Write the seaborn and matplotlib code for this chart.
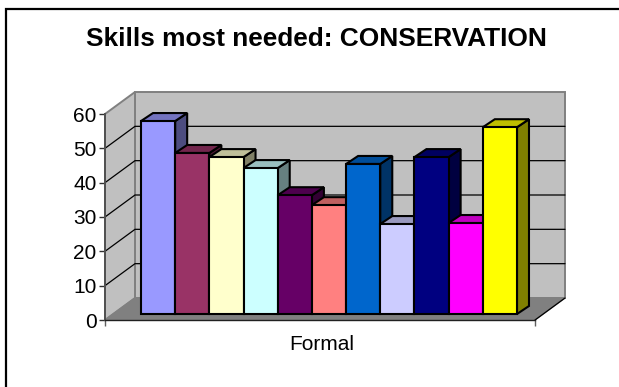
import matplotlib
matplotlib.use("Agg")
import matplotlib.pyplot as plt
from matplotlib.lines import Line2D
from matplotlib.patches import Polygon
from matplotlib.colors import to_rgb
import seaborn as sns

# Skill categories in plotting order, with the share of respondents naming each
skills = ["S1", "S2", "S3", "S4", "S5", "S6", "S7", "S8", "S9", "S10", "S11"]
values = [56.2, 46.9, 45.7, 42.5, 34.6, 31.7, 43.7, 26.2, 45.7, 26.5, 54.4]
colors = ["#9999FF", "#993366", "#FFFFCC", "#CCFFFF", "#660066", "#FF8080",
          "#0066CC", "#CCCCFF", "#000080", "#FF00FF", "#FFFF00"]
y_ticks = [0, 10, 20, 30, 40, 50, 60]
group_label = "Formal"
title = "Skills most needed: CONSERVATION"

W, H = 619, 387
sns.set_theme(style="white")
plt.rcParams["font.family"] = ["Liberation Sans", "DejaVu Sans"]
fig = plt.figure(figsize=(W / 100, H / 100), dpi=100, facecolor="white")


def rect(left, top, right, bottom):
    return [left / W, 1 - bottom / H, (right - left) / W, (bottom - top) / H]


# Chart frame: top and left edges only
fig.add_artist(Line2D([5.5 / W, 5.5 / W, 1], [0, 1 - 8.5 / H, 1 - 8.5 / H],
                      transform=fig.transFigure, color="black", lw=1.6,
                      solid_joinstyle="miter"))
fig.text(316 / W, 1 - 39 / H, title, ha="center", va="center", fontsize=18.9,
         fontweight="bold", color="black")

# Front plane of the 3D box: carries the value axis
ax = fig.add_axes(rect(105, 114, 535, 320), facecolor="none")
ax.set_xlim(0, 1)
ax.set_ylim(0, 60)
depth_x, depth_y = 30 / 430, 22 / 206 * 60

ax.add_patch(Polygon([(depth_x, depth_y), (1 + depth_x, depth_y), (1 + depth_x, 60 + depth_y),
                      (depth_x, 60 + depth_y)], closed=True, facecolor="#C0C0C0",
                     edgecolor="#808080", lw=1.4, clip_on=False, zorder=1))
ax.add_patch(Polygon([(0, 0), (depth_x, depth_y), (depth_x, 60 + depth_y), (0, 60)], closed=True,
                     facecolor="#C0C0C0", edgecolor="#808080", lw=1.4, clip_on=False, zorder=1))
ax.add_patch(Polygon([(0, 0), (1, 0), (1 + depth_x, depth_y), (depth_x, depth_y)], closed=True,
                     facecolor="#808080", edgecolor="#808080", lw=1, clip_on=False, zorder=1))
for v in y_ticks[1:-1]:
    ax.plot([0, depth_x, 1 + depth_x], [v, v + depth_y, v + depth_y], color="black", lw=0.9,
            clip_on=False, zorder=2, solid_joinstyle="miter")
# Dark outer edge of the floor on its right side
ax.plot([1, 1 + depth_x], [0, depth_y], color="black", lw=0.9, clip_on=False, zorder=2)

ax.set_xticks([0, 1])
ax.set_xticklabels(["", ""])
ax.set_yticks(y_ticks)
ax.tick_params(axis="y", length=4.5, width=1, color="#303030", labelsize=15, pad=1.5,
               left=True, labelcolor="black")
ax.tick_params(axis="x", length=4.5, width=1, color="#606060", bottom=True)
for side in ("top", "right"):
    ax.spines[side].set_visible(False)
ax.spines["left"].set_color("#505050")
ax.spines["left"].set_linewidth(1.4)
ax.spines["bottom"].set_color("#202020")
ax.spines["bottom"].set_linewidth(1)
fig.text(321.5 / W, 1 - 345 / H, group_label, ha="center", va="center", fontsize=15,
         color="black")

# Bars sit a little behind the front plane
bar_ax = fig.add_axes(rect(141, 108, 517, 314), facecolor="none")
sns.barplot(x=skills, y=values, hue=skills, palette=colors, order=skills, hue_order=skills,
            width=1.0, saturation=1, legend=False, ax=bar_ax, edgecolor="black", linewidth=1.5)
bar_ax.set_xlim(-0.5, 10.5)
bar_ax.set_ylim(0, 60)
bar_ax.axis("off")

bar_dx, bar_dy = 12 / 34.2, 8 / 206 * 60
for i, (patch, color) in enumerate(zip(bar_ax.patches, colors)):
    x0, w, h = patch.get_x(), patch.get_width(), patch.get_height()
    x1 = x0 + w
    rgb = to_rgb(color)
    top_col = tuple(c * 0.75 for c in rgb)
    side_col = tuple(c * 0.5 for c in rgb)
    base = 3 + 3 * i
    bar_ax.add_patch(Polygon([(x1, 0), (x1 + bar_dx, bar_dy), (x1 + bar_dx, h + bar_dy), (x1, h)],
                             closed=True, facecolor=side_col, edgecolor="black", lw=1.5,
                             clip_on=False, zorder=base, joinstyle="miter"))
    bar_ax.add_patch(Polygon([(x0, h), (x1, h), (x1 + bar_dx, h + bar_dy), (x0 + bar_dx, h + bar_dy)],
                             closed=True, facecolor=top_col, edgecolor="black", lw=1.5,
                             clip_on=False, zorder=base + 1, joinstyle="miter"))
    patch.set_zorder(base + 2)
    patch.set_clip_on(False)

fig.savefig("out.png", dpi=100)
